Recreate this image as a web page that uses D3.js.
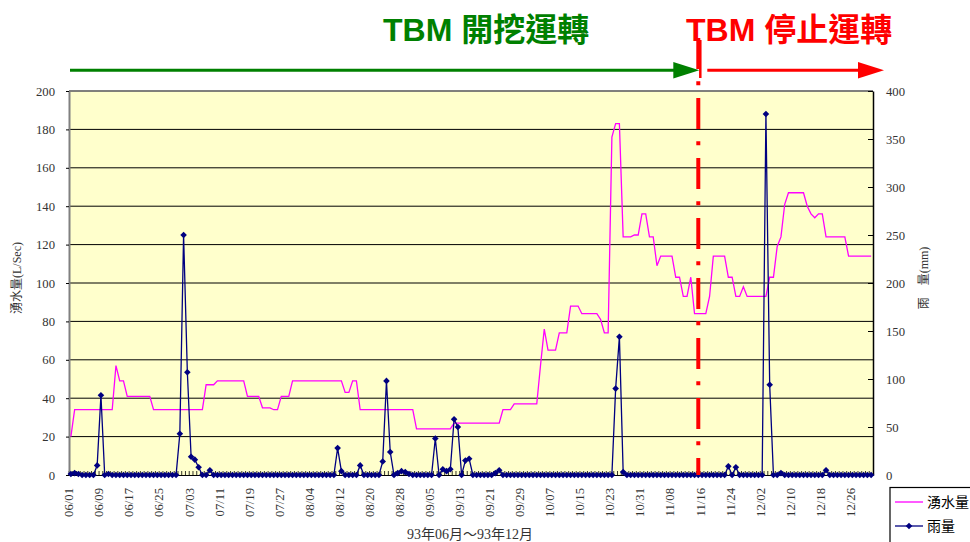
<!DOCTYPE html>
<html><head><meta charset="utf-8">
<script src="https://cdn.jsdelivr.net/npm/d3@7"></script>
<style>body{margin:0;background:#fff}svg{display:block}</style>
</head><body>
<svg id="c" width="970" height="542"></svg>
<script>
// ---------- DATA ----------
const dates = [
 "06/01","06/02","06/03","06/04","06/05","06/06","06/07","06/08","06/09","06/10","06/11","06/12","06/13","06/14","06/15","06/16","06/17","06/18","06/19","06/20","06/21","06/22","06/23","06/24","06/25","06/26","06/27","06/28","06/29","06/30",
 "07/01","07/02","07/03","07/04","07/05","07/06","07/07","07/08","07/09","07/10","07/11","07/12","07/13","07/14","07/15","07/16","07/17","07/18","07/19","07/20","07/21","07/22","07/23","07/24","07/25","07/26","07/27","07/28","07/29","07/30","07/31",
 "08/01","08/02","08/03","08/04","08/05","08/06","08/07","08/08","08/09","08/10","08/11","08/12","08/13","08/14","08/15","08/16","08/17","08/18","08/19","08/20","08/21","08/22","08/23","08/24","08/25","08/26","08/27","08/28","08/29","08/30","08/31",
 "09/01","09/02","09/03","09/04","09/05","09/06","09/07","09/08","09/09","09/10","09/11","09/12","09/13","09/14","09/15","09/16","09/17","09/18","09/19","09/20","09/21","09/22","09/23","09/24","09/25","09/26","09/27","09/28","09/29","09/30",
 "10/01","10/02","10/03","10/04","10/05","10/06","10/07","10/08","10/09","10/10","10/11","10/12","10/13","10/14","10/15","10/16","10/17","10/18","10/19","10/20","10/21","10/22","10/23","10/24","10/25","10/26","10/27","10/28","10/29","10/30","10/31",
 "11/01","11/02","11/03","11/04","11/05","11/06","11/07","11/08","11/09","11/10","11/11","11/12","11/13","11/14","11/15","11/16","11/17","11/18","11/19","11/20","11/21","11/22","11/23","11/24","11/25","11/26","11/27","11/28","11/29","11/30",
 "12/01","12/02","12/03","12/04","12/05","12/06","12/07","12/08","12/09","12/10","12/11","12/12","12/13","12/14","12/15","12/16","12/17","12/18","12/19","12/20","12/21","12/22","12/23","12/24","12/25","12/26","12/27","12/28","12/29","12/30","12/31"
];
// 湧水量 (L/Sec)
const inflow = [
 20,34,34,34,34,34,34,34,34,34,34,34,57,49,49,41,41,41,41,41,41,41,34,34,34,34,34,34,34,34,
 34,34,34,34,34,34,47,47,47,49,49,49,49,49,49,49,49,41,41,41,41,35,35,35,34,34,41,41,41,49,49,
 49,49,49,49,49,49,49,49,49,49,49,49,43,43,49,49,34,34,34,34,34,34,34,34,34,34,34,34,34,34,34,
 24,24,24,24,24,24,24,24,24,24,27,27,27,27,27,27,27,27,27,27,27,27,27,34,34,34,37,37,37,37,
 37,37,37,57,76,65,65,65,74,74,74,88,88,88,84,84,84,84,84,81,74,74,176,183,183,124,124,124,125,125,136,
 136,124,124,109,114,114,114,114,103,103,93,93,103,84,84,84,84,93,114,114,114,114,103,103,93,93,98,93,93,93,
 93,93,93,103,103,119,124,141,147,147,147,147,147,140,136,134,136,136,124,124,124,124,124,124,114,114,114,114,114,114,114
];
// 雨量 (mm)
const rain = [
 1,2,1,0,0,0,0,10,83,0,1,0,0,0,0,0,0,0,0,0,0,0,0,0,0,0,0,0,0,43,
 250,107,19,16,8,0,0,5,0,0,0,0,0,0,0,0,0,0,0,0,0,0,0,0,0,0,0,0,0,0,0,
 0,0,0,0,0,0,0,0,0,0,28,4,0,0,0,0,10,0,0,0,0,0,14,98,24,0,2,4,3,1,0,
 0,0,0,0,0,38,0,6,4,6,58,50,0,15,17,0,0,0,0,0,0,2,5,0,0,0,0,0,0,0,
 0,0,0,0,0,0,0,0,0,0,0,0,0,0,0,0,0,0,0,0,0,0,0,90,144,3,0,0,0,0,0,
 0,0,0,0,0,0,0,0,0,0,0,0,0,0,0,0,0,0,0,0,0,0,9,0,8,0,0,0,0,0,
 0,0,376,94,0,0,2,0,0,0,0,0,0,0,0,0,0,0,5,0,0,0,0,0,0,0,0,0,0,0,0
];
const xTickLabels = ["06/01","06/09","06/17","06/25","07/03","07/11","07/19","07/27","08/04","08/12","08/20","08/28","09/05","09/13","09/21","09/29","10/07","10/15","10/23","10/31","11/08","11/16","11/24","12/02","12/10","12/18","12/26"];
const leftTicks = [0,20,40,60,80,100,120,140,160,180,200];
const rightTicks = [0,50,100,150,200,250,300,350,400];
const stopDate = "11/15";
const seriesNames = ["湧水量","雨量"];

// ---------- LAYOUT ----------
const L = 69, R = 873, T = 91, B = 475;
const svg = d3.select("#c");
const serif = "'Liberation Serif','Times New Roman','Noto Sans CJK TC',serif";

const x = d3.scalePoint().domain(dates).range([L, R]).padding(0.5);
const yL = d3.scaleLinear().domain([0, 200]).range([B, T]);
const yR = d3.scaleLinear().domain([0, 400]).range([B, T]);

// plot background
svg.append("rect").attr("x", L).attr("y", T).attr("width", R - L).attr("height", B - T).attr("fill", "#FFFFCC");

// gridlines
svg.append("g").selectAll("line").data(leftTicks.slice(1)).join("line")
  .attr("x1", L).attr("x2", R).attr("y1", d => yL(d)).attr("y2", d => yL(d))
  .attr("stroke", "#000").attr("stroke-width", 1);

// top & left border (gray)
svg.append("line").attr("x1", L).attr("x2", R).attr("y1", T).attr("y2", T).attr("stroke", "#808080").attr("stroke-width", 1.5);

// category ticks along bottom (inside)
const step = x.step();
svg.append("g").selectAll("line").data(dates).join("line")
  .attr("x1", d => x(d) - step / 2).attr("x2", d => x(d) - step / 2)
  .attr("y1", B - 4).attr("y2", B).attr("stroke", "#000").attr("stroke-width", 0.8);

// left axis
const gL = svg.append("g").attr("transform", `translate(${L},0)`)
  .call(d3.axisLeft(yL).tickValues(leftTicks).tickSize(3).tickSizeOuter(0).tickPadding(11));
gL.select(".domain").attr("stroke", "#808080").attr("stroke-width", 2);
gL.selectAll(".tick line").attr("stroke", "#000");
gL.selectAll("text").attr("font-family", serif).attr("font-size", 12.7).attr("fill", "#333");

// right axis
const gR = svg.append("g").attr("transform", `translate(${R},0)`)
  .call(d3.axisRight(yR).tickValues(rightTicks).tickSize(-5).tickSizeOuter(0).tickPadding(13));
gR.select(".domain").attr("stroke", "#000").attr("stroke-width", 1.5);
gR.selectAll(".tick line").attr("stroke", "#000");
gR.selectAll("text").attr("font-family", serif).attr("font-size", 12.7).attr("fill", "#333");

// bottom axis
const gB = svg.append("g").attr("transform", `translate(0,${B})`)
  .call(d3.axisBottom(x).tickValues(xTickLabels).tickSize(0).tickSizeOuter(0));
gB.select(".domain").attr("stroke", "#000").attr("stroke-width", 1.2);
gB.selectAll("text").attr("font-family", serif).attr("font-size", 12.7).attr("fill", "#333")
  .attr("text-anchor", "end").attr("x", 0).attr("y", 0).attr("dy", "0.35em")
  .attr("transform", "translate(-2.5,13) rotate(-90)");

// inflow line
svg.append("path").datum(inflow)
  .attr("fill", "none").attr("stroke", "#FF00FF").attr("stroke-width", 1.3)
  .attr("d", d3.line().x((d, i) => x(dates[i])).y(d => yL(d)));

// rain line
svg.append("path").datum(rain)
  .attr("fill", "none").attr("stroke", "#000080").attr("stroke-width", 1.3)
  .attr("d", d3.line().x((d, i) => x(dates[i])).y(d => yR(d)));
const dia = "M0,-3.3L3.3,0L0,3.3L-3.3,0Z";
svg.append("g").selectAll("path").data(rain).join("path")
  .attr("d", dia).attr("fill", "#000080")
  .attr("transform", (d, i) => `translate(${x(dates[i])},${yR(d)})`);

// stop line (red dash-dot)
const xs = x(stopDate);
svg.append("line").attr("x1", xs).attr("x2", xs).attr("y1", 38).attr("y2", B)
  .attr("stroke", "#FF0000").attr("stroke-width", 4).attr("stroke-dasharray", "31,12.3,4,12.7");
svg.append("line").attr("x1", xs + 2).attr("x2", xs + 2).attr("y1", 40).attr("y2", 78)
  .attr("stroke", "#FF0000").attr("stroke-width", 2.5);

// arrows
function arrow(x1, x2, color) {
  svg.append("line").attr("x1", x1).attr("x2", x2 - 24).attr("y1", 70.3).attr("y2", 70.3)
    .attr("stroke", color).attr("stroke-width", 3);
  svg.append("path").attr("d", `M${x2},70.3L${x2 - 26},62L${x2 - 26},78.6Z`).attr("fill", color);
}
arrow(70, xs + 1, "#008000");
arrow(xs + 9, 884, "#FF0000");

// header texts
const hf = "'Liberation Sans',Arial,'Noto Sans CJK TC',sans-serif";
svg.append("text").attr("x", 383).attr("y", 41).attr("font-family", hf).attr("font-weight", "bold")
  .attr("font-size", 32).attr("fill", "#008000").text("TBM 開挖運轉");
svg.append("text").attr("x", 686).attr("y", 41).attr("font-family", hf).attr("font-weight", "bold")
  .attr("font-size", 32).attr("fill", "#FF0000").text("TBM 停止運轉");

// axis titles
svg.append("text").attr("transform", "translate(21,278) rotate(-90)").attr("text-anchor", "middle")
  .attr("font-family", serif).attr("font-size", 12).attr("fill", "#333").text("湧水量(L/Sec)");
svg.append("text").attr("transform", "translate(928,278) rotate(-90)").attr("text-anchor", "middle")
  .attr("font-family", serif).attr("font-size", 12).attr("fill", "#333").text("雨　量(mm)");
svg.append("text").attr("x", 470).attr("y", 539).attr("text-anchor", "middle")
  .attr("font-family", serif).attr("font-size", 14).attr("fill", "#333").text("93年06月～93年12月");

// legend
svg.append("rect").attr("x", 890).attr("y", 487.5).attr("width", 100).attr("height", 70)
  .attr("fill", "#fff").attr("stroke", "#000").attr("stroke-width", 1.2);
svg.append("line").attr("x1", 895).attr("x2", 923).attr("y1", 502).attr("y2", 502).attr("stroke", "#FF00FF").attr("stroke-width", 1.3);
svg.append("line").attr("x1", 895).attr("x2", 923).attr("y1", 526).attr("y2", 526).attr("stroke", "#000080").attr("stroke-width", 1.3);
svg.append("path").attr("d", dia).attr("fill", "#000080").attr("transform", "translate(909,526)");
svg.append("g").selectAll("text").data(seriesNames).join("text")
  .attr("x", 927).attr("y", (d, i) => 502 + i * 24).attr("dy", "0.36em")
  .attr("font-family", "'Noto Sans CJK TC',sans-serif").attr("font-size", 14).attr("fill", "#000").text(d => d);
</script>
</body></html>
